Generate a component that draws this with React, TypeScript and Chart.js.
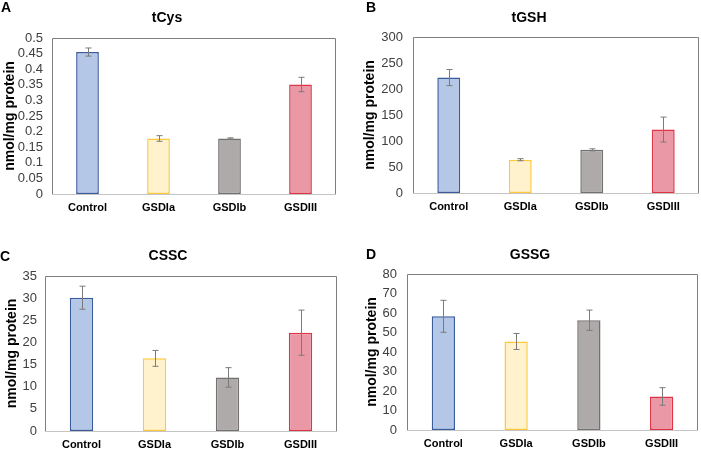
import React, { useEffect, useRef } from 'react';
import { Chart, registerables } from 'chart.js';

Chart.register(...registerables);

// ---------- data ----------
const categories = ['Control', 'GSDIa', 'GSDIb', 'GSDIII'];

const tCysMeans = [0.455, 0.178, 0.178, 0.351];
const tCysErrors = [0.013, 0.009, 0.002, 0.023];

const tGshMeans = [222, 64, 83, 122];
const tGshErrors = [15.5, 2, 2, 24];

const csscMeans = [30.1, 16.4, 12.1, 22.2];
const csscErrors = [2.6, 1.8, 2.2, 5.1];

const gssgMeans = [58.3, 45.4, 56.3, 17.2];
const gssgErrors = [8.2, 4.1, 5.2, 4.5];

const panelLetters = ['A', 'B', 'C', 'D'];
const panelTitles = ['tCys', 'tGSH', 'CSSC', 'GSSG'];
const yAxisLabel = 'nmol/mg protein';
const yMaxes = [0.5, 300, 35, 80];
const ySteps = [0.05, 50, 5, 10];

// ---------- styles ----------
const FONT = '"Liberation Sans", Arial, Helvetica, sans-serif';
const fillColors = ['#b4c7e7', '#fff2cc', '#aeaaaa', '#ea97a6'];
const borderColors = ['#3a5b9c', '#fdc83a', '#737070', '#df3444'];

type Layout = {
  box: { x: number; y: number; w: number; h: number };
  plot: { l: number; t: number; r: number; b: number };
  title: { x: number; y: number };
  letter: { x: number; y: number };
  yTitlePad: number;
  yTickPad: number;
};

const layouts: Layout[] = [
  { box: { x: 0, y: 0, w: 350, h: 225 }, plot: { l: 52, t: 38, r: 336, b: 194 }, title: { x: 167, y: 18 }, letter: { x: 1, y: 8 }, yTitlePad: 1.5, yTickPad: 9 },
  { box: { x: 350, y: 0, w: 351, h: 225 }, plot: { l: 413, t: 37, r: 699, b: 193 }, title: { x: 529, y: 18 }, letter: { x: 366, y: 8 }, yTitlePad: 11.5, yTickPad: 10 },
  { box: { x: 0, y: 225, w: 350, h: 224 }, plot: { l: 45, t: 276, r: 337, b: 431 }, title: { x: 168, y: 256 }, letter: { x: 0, y: 257 }, yTitlePad: 4, yTickPad: 8 },
  { box: { x: 350, y: 225, w: 351, h: 224 }, plot: { l: 407, t: 274, r: 698, b: 430 }, title: { x: 530, y: 255 }, letter: { x: 366, y: 255 }, yTitlePad: 14, yTickPad: 10 },
];

const panelMeans = [tCysMeans, tGshMeans, csscMeans, gssgMeans];
const panelErrors = [tCysErrors, tGshErrors, csscErrors, gssgErrors];

function Panel({ index }: { index: number }) {
  const ref = useRef<HTMLCanvasElement>(null);
  const lay = layouts[index];

  useEffect(() => {
    const canvas = ref.current;
    if (!canvas) return;
    const means = panelMeans[index];
    const errors = panelErrors[index];
    const { box, plot } = lay;

    const decor = {
      id: 'decor' + index,
      afterDatasetsDraw(chart: any) {
        const ctx = chart.ctx;
        const y = chart.scales.y;
        const meta = chart.getDatasetMeta(0);
        ctx.save();
        // error bars
        ctx.strokeStyle = '#7a7a7a';
        ctx.lineWidth = 1;
        meta.data.forEach((el: any, i: number) => {
          const x = Math.round(el.x) + 0.5;
          const yt = y.getPixelForValue(means[i] + errors[i]);
          const yb = y.getPixelForValue(means[i] - errors[i]);
          ctx.beginPath();
          ctx.moveTo(x, yt);
          ctx.lineTo(x, yb);
          ctx.moveTo(x - 3, yt);
          ctx.lineTo(x + 3, yt);
          ctx.moveTo(x - 3, yb);
          ctx.lineTo(x + 3, yb);
          ctx.stroke();
        });
        // plot box
        const a = chart.chartArea;
        ctx.strokeStyle = '#7f7f7f';
        ctx.lineWidth = 1;
        ctx.beginPath();
        ctx.moveTo(a.left + 0.5, a.bottom);
        ctx.lineTo(a.left + 0.5, a.top + 0.5);
        ctx.lineTo(a.right - 0.5, a.top + 0.5);
        ctx.lineTo(a.right - 0.5, a.bottom);
        ctx.stroke();
        ctx.strokeStyle = '#c4c4c4';
        ctx.beginPath();
        ctx.moveTo(a.left, a.bottom + 0.5);
        ctx.lineTo(a.right, a.bottom + 0.5);
        ctx.stroke();
        ctx.restore();
      },
      afterDraw(chart: any) {
        const ctx = chart.ctx;
        ctx.save();
        ctx.fillStyle = '#000';
        ctx.textBaseline = 'middle';
        ctx.font = 'bold 14px ' + FONT;
        ctx.textAlign = 'center';
        ctx.fillText(panelTitles[index], lay.title.x - box.x, lay.title.y - box.y);
        ctx.textAlign = 'left';
        ctx.font = 'bold 14px ' + FONT;
        ctx.fillText(panelLetters[index], lay.letter.x - box.x, lay.letter.y - box.y);
        ctx.restore();
      },
    };

    const chart = new Chart(canvas, {
      type: 'bar',
      data: {
        labels: categories,
        datasets: [
          {
            data: means,
            backgroundColor: fillColors,
            borderColor: borderColors,
            borderWidth: 1.5,
            borderSkipped: false,
            barPercentage: 0.32,
            categoryPercentage: 1,
          },
        ],
      },
      options: {
        responsive: false,
        animation: false,
        devicePixelRatio: 1,
        events: [],
        layout: {
          padding: {
            left: 0,
            top: plot.t - box.y,
            right: box.x + box.w - plot.r,
            bottom: 0,
          },
        },
        plugins: {
          legend: { display: false },
          title: { display: false },
          tooltip: { enabled: false },
        },
        scales: {
          x: {
            grid: { display: false, drawTicks: false },
            border: { display: false },
            ticks: {
              color: '#000',
              padding: 7,
              maxRotation: 0,
              autoSkip: false,
              font: { family: FONT, size: 11, weight: 'bold' },
            },
            afterFit: (s: any) => {
              s.height = box.y + box.h - plot.b;
            },
          },
          y: {
            min: 0,
            max: yMaxes[index],
            grid: { display: false, drawTicks: false },
            border: { display: false },
            ticks: {
              stepSize: ySteps[index],
              autoSkip: false,
              maxTicksLimit: 20,
              color: '#404040',
              padding: lay.yTickPad,
              font: { family: FONT, size: 13 },
              callback: (v: any) => String(parseFloat(Number(v).toFixed(3))),
            },
            title: {
              display: true,
              text: yAxisLabel,
              color: '#000',
              padding: { top: lay.yTitlePad, bottom: 0 },
              font: { family: FONT, size: 14, weight: 'bold' },
            },
            afterFit: (s: any) => {
              s.width = plot.l - box.x;
            },
          },
        },
      },
      plugins: [decor],
    } as any);

    return () => chart.destroy();
  }, [index]);

  return (
    <canvas
      ref={ref}
      width={lay.box.w}
      height={lay.box.h}
      style={{
        position: 'absolute',
        left: lay.box.x,
        top: lay.box.y,
        width: lay.box.w,
        height: lay.box.h,
      }}
    />
  );
}

export default function App() {
  return (
    <div
      style={{
        position: 'absolute',
        left: 0,
        top: 0,
        width: 701,
        height: 449,
        background: '#fff',
        overflow: 'hidden',
      }}
    >
      {[0, 1, 2, 3].map((i) => (
        <Panel key={i} index={i} />
      ))}
    </div>
  );
}
